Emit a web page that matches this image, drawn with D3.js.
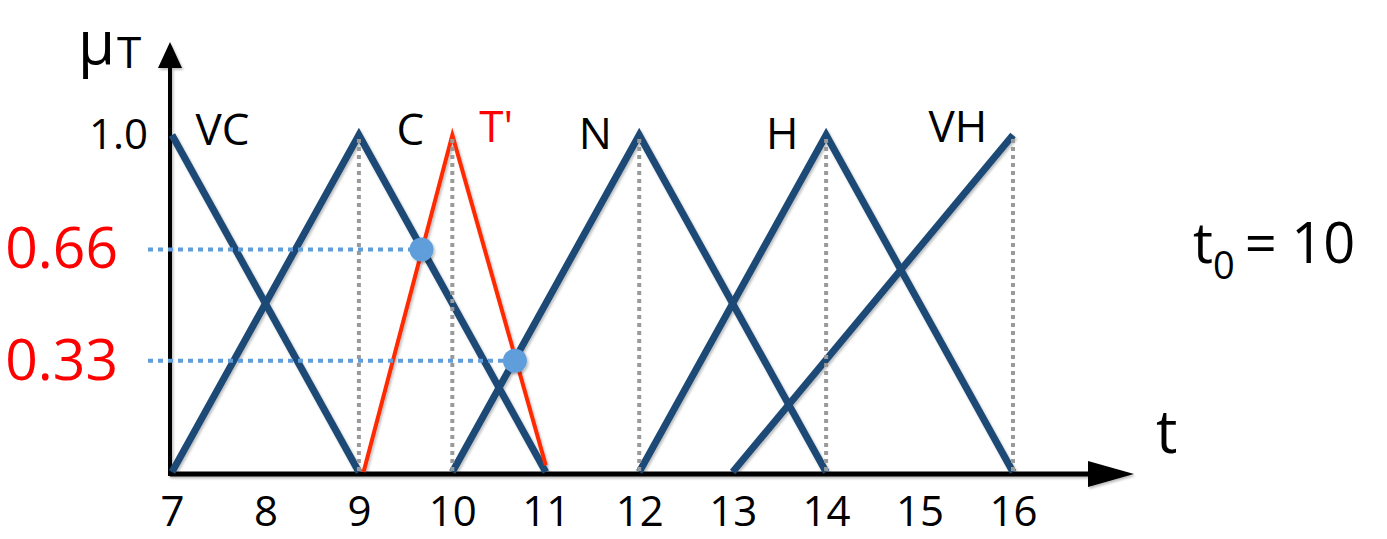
<!DOCTYPE html>
<html>
<head>
<meta charset="utf-8">
<script src="https://cdn.jsdelivr.net/npm/d3@7"></script>
<style>
  html, body { margin: 0; padding: 0; background: #fff; }
  svg { display: block; font-family: "Open Sans", "DejaVu Sans", sans-serif; }
</style>
</head>
<body>
<svg id="chart" width="1387" height="539"></svg>
<script>
// ---------- data ----------
const xTicks = [7, 8, 9, 10, 11, 12, 13, 14, 15, 16];
const yTicks = [1.0];
const seriesNames = ["VC", "C", "N", "H", "VH"];
const vcT = [7, 9],          vcMu = [1, 0];
const cT  = [7, 9, 11],      cMu  = [0, 1, 0];
const nT  = [10, 12, 14],    nMu  = [0, 1, 0];
const hT  = [12, 14, 16],    hMu  = [0, 1, 0];
const vhT = [13, 16],        vhMu = [0, 1];
const tPrimeT = [9.05, 10, 11], tPrimeMu = [0, 1, 0.02];
const guideT = [9, 10, 12, 14, 16];
const cutMu = [0.66, 0.33];
const cutT  = [9.67, 10.67];
const labelNames = ["VC", "C", "T'", "N", "H", "VH"];
const labelT  = [7.54, 9.55, 10.47, 11.53, 13.53, 15.41];
const labelMu = [1.02, 1.02, 1.03, 1.01, 1.01, 1.03];

// ---------- scales ----------
const svg = d3.select("#chart");
const x = d3.scaleLinear().domain([7, 16]).range([172, 1013]);
const y = d3.scaleLinear().domain([0, 1]).range([472, 135]);

const navy = "#1f4a74", red = "#ff2a00", labelRed = "#ff0000", lightBlue = "#5f9ddb", gray = "#9a9a9a";

const defs = svg.append("defs");
const f = defs.append("filter").attr("id", "shadow").attr("x", "-10%").attr("y", "-10%").attr("width", "120%").attr("height", "120%");
f.append("feDropShadow").attr("dx", 1.5).attr("dy", 2).attr("stdDeviation", 1.2).attr("flood-color", "#000").attr("flood-opacity", 0.25);

// ---------- axes lines with arrows ----------
const axisY0 = y(0) + 2;
const axisG = svg.append("g").attr("filter", "url(#shadow)");
axisG.append("line").attr("x1", x(7) - 2).attr("x2", 1092).attr("y1", axisY0).attr("y2", axisY0)
  .attr("stroke", "#000").attr("stroke-width", 5);
axisG.append("path").attr("d", `M1088,${axisY0 - 13} L1134,${axisY0} L1088,${axisY0 + 13} Z`).attr("fill", "#000");
axisG.append("line").attr("x1", x(7) - 2).attr("x2", x(7) - 2).attr("y1", axisY0 + 2).attr("y2", 64)
  .attr("stroke", "#000").attr("stroke-width", 4);
axisG.append("path").attr("d", `M${x(7) - 14},68 L${x(7) - 2},42 L${x(7) + 10},68 Z`).attr("fill", "#000");

// tick labels via d3 axes
const xAxis = svg.append("g").attr("transform", `translate(0,${axisY0})`)
  .call(d3.axisBottom(x).tickValues(xTicks).tickSize(0).tickPadding(22).tickFormat(d3.format("d")));
xAxis.select(".domain").remove();
xAxis.selectAll("text").attr("font-size", 42).attr("fill", "#000").attr("font-family", "Open Sans, sans-serif");

const yAxis = svg.append("g").attr("transform", `translate(${x(7)},0)`)
  .call(d3.axisLeft(y).tickValues(yTicks).tickSize(0).tickPadding(24).tickFormat(d3.format(".1f")));
yAxis.select(".domain").remove();
yAxis.selectAll("text").attr("font-size", 42).attr("fill", "#000").attr("font-family", "Open Sans, sans-serif");

const cutAxis = svg.append("g").attr("transform", `translate(${x(7)},0)`)
  .call(d3.axisLeft(y).tickValues(cutMu).tickSize(0).tickPadding(54).tickFormat(d3.format(".2f")));
cutAxis.select(".domain").remove();
cutAxis.selectAll("text").attr("font-size", 57).attr("fill", labelRed).attr("font-family", "Open Sans, sans-serif");

// ---------- membership functions ----------
const line = d3.line().x(d => x(d[0])).y(d => y(d[1]));
const navySeries = [[vcT, vcMu], [cT, cMu], [nT, nMu], [hT, hMu], [vhT, vhMu]];
const lines = svg.append("g").attr("filter", "url(#shadow)");
navySeries.forEach(([ts, ms]) => {
  lines.append("path").datum(ts.map((t, i) => [t, ms[i]]))
    .attr("d", line).attr("fill", "none").attr("stroke", navy)
    .attr("stroke-width", 7).attr("stroke-linejoin", "miter").attr("stroke-linecap", "butt");
});
lines.append("path").datum(tPrimeT.map((t, i) => [t, tPrimeMu[i]]))
  .attr("d", line).attr("fill", "none").attr("stroke", red).attr("stroke-width", 4);

// ---------- guides ----------
svg.append("g").selectAll("line").data(guideT).join("line")
  .attr("x1", d => x(d)).attr("x2", d => x(d))
  .attr("y1", y(1) + 4).attr("y2", y(0))
  .attr("stroke", gray).attr("stroke-width", 4).attr("stroke-dasharray", "4,4");

svg.append("g").selectAll("line").data(cutMu).join("line")
  .attr("x1", 148).attr("x2", (d, i) => x(cutT[i]))
  .attr("y1", d => y(d)).attr("y2", d => y(d))
  .attr("stroke", lightBlue).attr("stroke-width", 4).attr("stroke-dasharray", "5,5");

svg.append("g").attr("filter", "url(#shadow)").selectAll("circle").data(cutMu).join("circle")
  .attr("cx", (d, i) => x(cutT[i])).attr("cy", d => y(d)).attr("r", 12)
  .attr("fill", lightBlue);

// ---------- labels ----------
svg.append("g").selectAll("text").data(labelNames).join("text")
  .attr("x", (d, i) => x(labelT[i])).attr("y", (d, i) => y(labelMu[i]))
  .attr("text-anchor", "middle").attr("dominant-baseline", "central")
  .attr("font-size", 44).attr("fill", d => d === "T'" ? labelRed : "#000")
  .text(d => d);

// axis titles
svg.append("text").attr("x", 78).attr("y", 64).attr("font-size", 60).text("μ");
svg.append("text").attr("x", 117).attr("y", 68).attr("font-size", 44).text("T");
svg.append("text").attr("x", 1156).attr("y", 453).attr("font-size", 60).text("t");

const t0 = svg.append("text").attr("x", 1193).attr("y", 263).attr("font-size", 56);
t0.append("tspan").text("t");
t0.append("tspan").attr("font-size", 38).attr("dy", 16).text("0");
t0.append("tspan").attr("dy", -16).attr("dx", 10).text("= 10");
</script>
</body>
</html>
